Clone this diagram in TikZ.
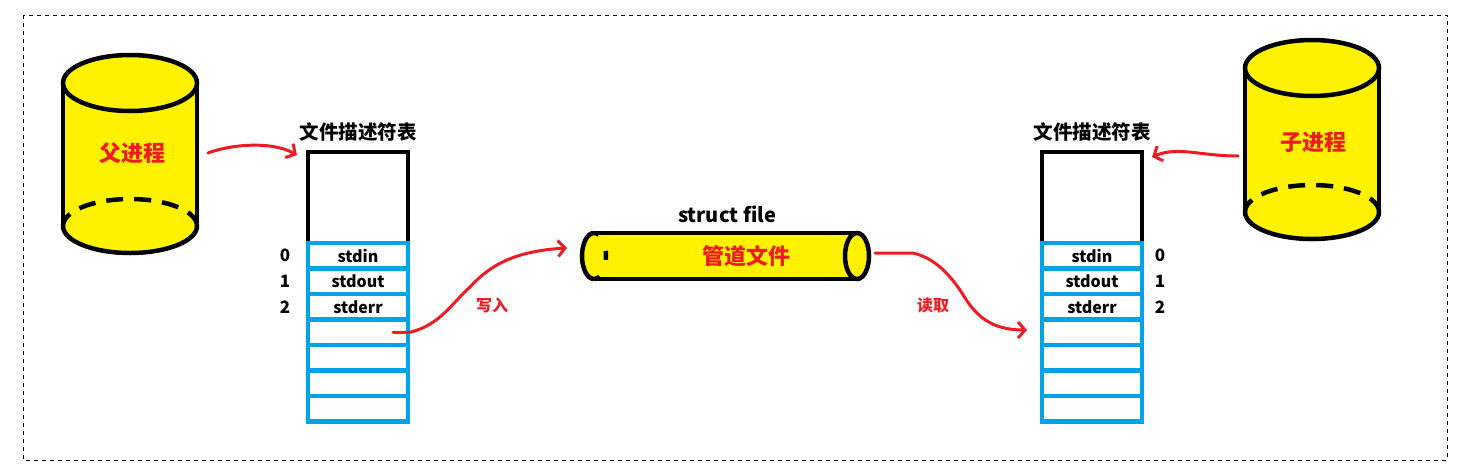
\documentclass[tikz,border=0pt]{standalone}
\usepackage{fontspec}
\setmainfont{Noto Sans CJK SC}
\usetikzlibrary{arrows.meta}
\usetikzlibrary{positioning}

\definecolor{procyellow}{HTML}{FFF200}
\definecolor{fdblue}{HTML}{00A2E8}
\definecolor{pipered}{HTML}{ED1C24}

\begin{document}
\begin{tikzpicture}[x=1pt,y=-1pt,
    cylline/.style={line width=4.5pt},
    fdtop/.style={draw, line width=4.5pt, minimum width=100pt, minimum height=91pt, inner sep=0pt},
    fdrow/.style={draw=fdblue, line width=4.5pt, minimum width=100pt, minimum height=25.5pt, inner sep=0pt, font=\fontsize{16}{16}\selectfont\bfseries},
    fdnum/.style={font=\fontsize{17}{17}\selectfont\bfseries},
    title/.style={font=\fontsize{19.5}{19.5}\selectfont\bfseries},
    proclabel/.style={text=pipered, font=\fontsize{22}{22}\selectfont\bfseries},
    redarrow/.style={draw=pipered, line width=3pt, line cap=round, -{Straight Barb[length=7pt,width=16pt]}},
    oplabel/.style={text=pipered, font=\fontsize{16}{16}\selectfont\bfseries}]
    \useasboundingbox (0,0) rectangle (1463,472);
    \draw[dash pattern=on 4pt off 4pt, line width=0.8pt] (23,15) rectangle (1447,460);

    % the two processes
    \foreach \cx/\ty/\by in {130/83/226, 1312/68/212} {
        \fill[procyellow] (\cx-67,\ty) rectangle (\cx+67,\by);
        \fill[procyellow] (\cx,\ty) ellipse[x radius=67pt, y radius=28pt];
        \fill[procyellow] (\cx,\by) ellipse[x radius=67pt, y radius=27pt];
        \draw[cylline] (\cx,\ty) ellipse[x radius=67pt, y radius=28pt];
        \draw[cylline] (\cx-67,\ty) -- (\cx-67,\by);
        \draw[cylline] (\cx+67,\ty) -- (\cx+67,\by);
        \draw[cylline] (\cx-67,\by) arc[start angle=180, end angle=360, x radius=67pt, y radius=27pt];
        \draw[cylline, dash pattern=on 17pt off 11pt] (\cx+67,\by) arc[start angle=0, end angle=180, x radius=67pt, y radius=27pt];
    }
    \node[proclabel] (parent) at (132,153) {父进程};
    \node[proclabel] (child) at (1313,142) {子进程};

    % descriptor tables
    \node[fdtop] (ltop) at (358,197.5) {};
    \node[fdtop] (rtop) at (1092,197.5) {};
    \foreach \i/\t in {1/stdin,2/stdout,3/stderr,4/,5/,6/,7/} {
        \node[fdrow] (l\i) at (358,{243+25.5*(\i-0.5)}) {\t};
        \node[fdrow] (r\i) at (1092,{243+25.5*(\i-0.5)}) {\t};
    }
    \node[title, above=5pt of ltop] {文件描述符表};
    \node[title, above=5pt of rtop] {文件描述符表};
    \foreach \i/\n in {1/0,2/1,3/2} {
        \node[fdnum] at (285,{243+25.5*(\i-0.5)}) {\n};
        \node[fdnum] at (1160,{243+25.5*(\i-0.5)}) {\n};
    }

    % the pipe
    \fill[procyellow] (594,233) rectangle (857,279);
    \fill[procyellow] (594,256) ellipse[x radius=12pt, y radius=23pt];
    \fill[procyellow] (857,256) ellipse[x radius=12pt, y radius=23pt];
    \draw[cylline] (594,233) -- (857,233);
    \draw[cylline] (594,279) -- (857,279);
    \draw[cylline] (857,256) ellipse[x radius=12pt, y radius=23pt];
    \draw[cylline] (594,233) arc[start angle=90, end angle=270, x radius=12pt, y radius=23pt];
    \draw[cylline, dash pattern=on 5pt off 18pt on 9pt off 18pt on 8pt] (594,233) arc[start angle=90, end angle=-90, x radius=12pt, y radius=23pt];
    \node[font=\fontsize{20}{20}\selectfont\bfseries] (sfile) at (727,214) {struct file};
    \node[proclabel] (pipe) at (746,256) {管道文件};

    % connectors
    \coordinate (pout) at (208,153);
    \coordinate (pin) at (297,155);
    \coordinate (cout) at (1238,156);
    \coordinate (cin) at (1152,157);
    \coordinate (pipeL) at (567,248);
    \coordinate (pipeR) at (875,253);
    \coordinate (rin) at (1027,330);
    \draw[redarrow] (pout) .. controls (232,144) and (272,141) .. (pin);
    \draw[redarrow] (cout) .. controls (1200,156) and (1178,146) .. (cin);
    \draw[redarrow] ([xshift=35pt]l4.center) -- ++(17,0) .. controls (440,325) and (452,303) .. (470,287) .. controls (490,265) and (515,251) .. (pipeL);
    \draw[redarrow] (pipeR) -- (913,253) .. controls (935,258) and (950,275) .. (962,293) .. controls (975,315) and (990,330) .. (rin);
    \node[oplabel] (write) at (492,305) {写入};
    \node[oplabel] (read) at (933,305) {读取};
\end{tikzpicture}
\end{document}
